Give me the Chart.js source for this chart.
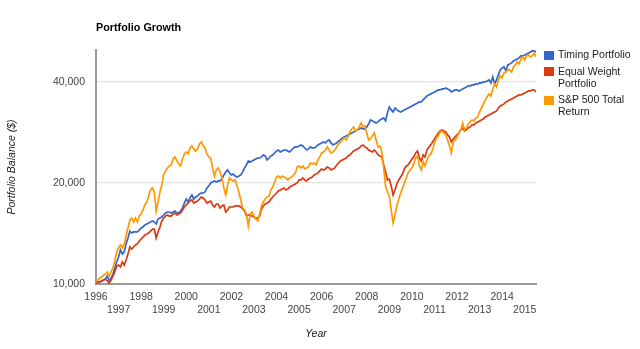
<!DOCTYPE html>
<html>
<head>
<meta charset="utf-8">
<title>Portfolio Growth</title>
<script src="https://cdn.jsdelivr.net/npm/chart.js@4.4.1/dist/chart.umd.min.js"></script>
<style>
  body { margin: 0; background: #fff; }
  #wrap { position: relative; width: 640px; height: 349px; font-family: Arial, "Liberation Sans", sans-serif; }
  #chart { position: absolute; left: 0; top: 0; }
  #title { position: absolute; left: 96px; top: 21px; font-size: 10.8px; line-height: 12px; font-weight: bold; color: #000; }
  .key { position: absolute; left: 544px; width: 10px; height: 9px; }
  .label { position: absolute; left: 558px; font-size: 10.5px; line-height: 11.7px; color: #222; white-space: nowrap; }
</style>
</head>
<body>
<div id="wrap">
  <canvas id="chart" width="640" height="349"></canvas>
  <div id="title">Portfolio Growth</div>
  <div id="legend"></div>
</div>
<script>
// monthly balances, Jan 1996 onwards
const startYear = 1996;
const tickYears = [1996, 1997, 1998, 1999, 2000, 2001, 2002, 2003, 2004, 2005,
  2006, 2007, 2008, 2009, 2010, 2011, 2012, 2013, 2014, 2015];
const balanceTicks = [10000, 20000, 40000];

const seriesNames = ["Timing Portfolio", "Equal Weight Portfolio", "S&P 500 Total Return"];
const legendLines = [["Timing Portfolio"], ["Equal Weight", "Portfolio"], ["S&P 500 Total", "Return"]];
const seriesColors = ["#3366cc", "#dc3912", "#ff9900"];

const timing = [
  10070, 10140, 10140, 10210, 10280, 10350, 10560, 10210, 10420, 10710, 11160, 11630,
  12030, 12630, 12290, 12450, 13160, 13710, 14380, 14190, 14290, 14290, 14290, 14480,
  14680, 14790, 14990, 15090, 15200, 15300, 15410, 15300, 15090, 15620, 15730, 15840,
  16050, 16280, 16390, 16390, 16280, 16390, 16500, 16280, 16280, 16500, 16840, 17430,
  17920, 17550, 18040, 18420, 17920, 18170, 18290, 18540, 18670, 18670, 18800, 19320,
  19590, 20000, 20140, 20280, 20140, 20280, 20280, 20560, 21130, 21570, 21870, 21420,
  21130, 21270, 20980, 20840, 20980, 21130, 21570, 22170, 22630, 23260, 23100, 23260,
  23420, 23580, 23740, 23740, 23910, 24240, 24070, 23420, 23740, 24070, 24240, 24570,
  24910, 25080, 24740, 24910, 25080, 25080, 24910, 24740, 25080, 25430, 25610, 25610,
  25780, 25960, 25780, 25430, 25080, 25260, 25610, 25430, 25430, 25610, 25960, 26140,
  26320, 26500, 26320, 26680, 26870, 26320, 25960, 26140, 26320, 26680, 26870, 27240,
  27430, 27620, 27810, 28000, 28190, 28380, 28580, 28780, 28980, 29170, 28980, 28980,
  29380, 29990, 30820, 30610, 30400, 30190, 30400, 30820, 31030, 31250, 30610, 32340,
  33700, 33010, 32560, 33470, 33010, 32790, 32560, 32790, 33010, 33240, 33470, 33700,
  33930, 34170, 34400, 34640, 34880, 34880, 35360, 35850, 36340, 36590, 36850, 37100,
  37360, 37610, 37870, 37870, 38130, 38130, 38400, 38130, 37870, 37360, 37610, 37870,
  37870, 37610, 37870, 38130, 38400, 38660, 38930, 38930, 39190, 39190, 39460, 39460,
  39740, 39740, 40010, 40010, 40290, 40560, 39740, 41410, 39460, 40560, 41980, 43450,
  44050, 44350, 43150, 44960, 45270, 45590, 46220, 46530, 46850, 47180, 47830, 47830,
  48160, 48490, 48820, 49160, 49500, 49500, 49160
];

const equalWeight = [
  10070, 10140, 10140, 10210, 10280, 10350, 10210, 10070, 10280, 10560, 10860, 11310,
  11390, 11240, 11630, 11390, 11790, 12290, 12890, 12710, 12890, 13070, 13160, 13430,
  13620, 13800, 14000, 14090, 14190, 14380, 14580, 14580, 13710, 14290, 14790, 15410,
  15730, 15940, 16050, 15940, 15940, 16170, 16280, 16050, 16170, 16280, 16620, 16960,
  17200, 17430, 17670, 17800, 17430, 17550, 17670, 17920, 18170, 18040, 17800, 17430,
  17550, 17670, 17200, 16960, 17310, 17310, 16840, 17080, 17200, 16390, 16620, 16960,
  16960, 16960, 17080, 17080, 17080, 16960, 16730, 16500, 15940, 16050, 16050, 15940,
  15840, 15730, 15730, 15940, 16730, 17080, 17310, 17430, 17550, 17920, 18170, 18420,
  18670, 18930, 19060, 19190, 19320, 19060, 19190, 19460, 19590, 19720, 19860, 20000,
  20420, 20420, 20700, 20420, 20280, 20560, 20700, 20840, 21130, 21270, 21420, 21720,
  22020, 21870, 22020, 22320, 22170, 21870, 22020, 22170, 22630, 22940, 23260, 23420,
  23580, 23740, 24070, 24240, 24570, 24910, 25080, 25260, 25430, 25780, 25960, 25610,
  25430, 25080, 24910, 24740, 25080, 24740, 24240, 24070, 23910, 22630, 21570, 20420,
  20560, 19590, 18420, 19060, 19860, 20420, 20840, 21270, 22020, 22480, 22630, 23100,
  23580, 23910, 24570, 24910, 23740, 23260, 24240, 23910, 25080, 25610, 25960, 26500,
  27050, 27620, 28190, 28580, 28780, 28580, 28380, 27810, 27430, 26500, 27050, 27430,
  27810, 28190, 28780, 29170, 28580, 28780, 29170, 29380, 29780, 29780, 30190, 30400,
  30610, 30820, 31030, 31460, 31680, 31900, 32120, 32340, 32560, 32790, 33470, 33930,
  34170, 34400, 34880, 35120, 35360, 35600, 35850, 36090, 36340, 36590, 36590, 36850,
  37100, 37360, 37610, 37610, 37870, 37870, 37360
];

const sp500Total = [
  10140, 10280, 10420, 10490, 10640, 10710, 10860, 10560, 10860, 11160, 11710, 12450,
  12800, 13070, 12800, 13160, 13900, 14680, 15510, 15730, 15300, 15730, 15300, 15940,
  16170, 16620, 17200, 17550, 18290, 19060, 19320, 18800, 16500, 17550, 18800, 19720,
  21270, 21720, 22170, 22480, 22630, 23580, 23910, 23260, 22790, 22480, 23580, 24410,
  24740, 24410, 25430, 25780, 25260, 24910, 25260, 26140, 26500, 25780, 25430, 24410,
  23910, 23740, 22170, 20980, 21870, 22170, 21570, 20700, 19320, 18420, 19720, 20700,
  20420, 20280, 20420, 19590, 18800, 17800, 16840, 16620, 16170, 14890, 16170, 16390,
  15940, 15620, 15410, 16170, 17080, 17550, 17920, 18170, 18290, 19060, 19460, 20140,
  20840, 20980, 20700, 20980, 20840, 20700, 20420, 20700, 20840, 21130, 21420, 22320,
  22480, 22170, 22480, 22020, 22170, 22320, 22940, 22790, 22940, 22630, 23420, 23910,
  24570, 24740, 25080, 25610, 25080, 24570, 24740, 25080, 25610, 26140, 26500, 26870,
  27240, 26870, 27430, 28380, 28980, 29380, 28580, 28780, 29380, 30190, 29380, 29580,
  28190, 26870, 27050, 27620, 28190, 26870, 25610, 25780, 24740, 22170, 19590, 18800,
  18290, 16620, 15200, 16050, 17080, 17920, 18670, 19320, 20000, 20700, 21420, 21870,
  22170, 22790, 23740, 24070, 22480, 21870, 23100, 22480, 23420, 24070, 24410, 25080,
  26320, 27240, 27620, 28380, 28580, 28190, 27810, 26870, 25780, 24570, 26500, 26870,
  27430, 28190, 28780, 30190, 28780, 29170, 29990, 30400, 30820, 30610, 31250, 31460,
  32560, 33470, 34400, 35360, 36090, 36850, 36340, 38130, 39460, 38660, 40560, 41690,
  41120, 42560, 42850, 43450, 43450, 42850, 44350, 44960, 45900, 45270, 46850, 47500,
  46530, 47830, 48160, 47500, 47830, 48820, 47500
];

const fontFamily = 'Arial, "Liberation Sans", sans-serif';
const tickFont = { family: fontFamily, size: 10.5, lineHeight: 1.27 };
const axisTitleFont = { family: fontFamily, size: 10.5, style: "italic", lineHeight: 1.2 };

// one point per month
const toPoints = (values) => values.map((v, i) => ({ x: startYear + i / 12, y: v }));
const lastX = startYear + (timing.length - 1) / 12;

// legend on the right, wrapped like the original
const legend = document.getElementById("legend");
const keyTops = [50.5, 67, 95.5];
const labelTops = [49, 65.8, 94.2];
legendLines.forEach((lines, i) => {
  const key = document.createElement("div");
  key.className = "key";
  key.style.top = keyTops[i] + "px";
  key.style.background = seriesColors[i];
  legend.appendChild(key);
  const label = document.createElement("div");
  label.className = "label";
  label.style.top = labelTops[i] + "px";
  label.innerHTML = lines.map((t) => t.replace("&", "&amp;")).join("<br>");
  legend.appendChild(label);
});

const ctx = document.getElementById("chart").getContext("2d");
const growthChart = new Chart(ctx, {
  type: "line",
  data: {
    datasets: [
      { label: seriesNames[0], data: toPoints(timing), borderColor: seriesColors[0], order: 2 },
      { label: seriesNames[1], data: toPoints(equalWeight), borderColor: seriesColors[1], order: 1 },
      { label: seriesNames[2], data: toPoints(sp500Total), borderColor: seriesColors[2], order: 0 },
    ],
  },
  options: {
    responsive: false,
    animation: false,
    devicePixelRatio: 1,
    layout: { padding: { top: 50, right: 104, left: 0, bottom: 0 } },
    elements: {
      point: { radius: 0 },
      line: { borderWidth: 1.7, tension: 0, fill: false },
    },
    plugins: {
      legend: { display: false },
      tooltip: { enabled: false },
    },
    scales: {
      x: {
        type: "linear",
        min: startYear,
        max: lastX,
        afterBuildTicks: (scale) => {
          scale.ticks = tickYears.map((v) => ({ value: v }));
        },
        afterFit: (scale) => {
          scale.height = 65;
          scale.paddingLeft = 0;
          scale.paddingRight = 0;
        },
        grid: { display: false, drawTicks: false },
        border: { display: true, color: "#9a9a9a", width: 2 },
        ticks: {
          autoSkip: false,
          maxRotation: 0,
          minRotation: 0,
          padding: 6,
          color: "#444",
          font: tickFont,
          // even years on the first row, odd years on the second
          callback: (value, index) => (index % 2 === 0 ? [String(value), ""] : ["", String(value)]),
        },
        title: {
          display: true,
          text: "Year",
          color: "#222",
          font: axisTitleFont,
          padding: { top: 0, bottom: 9 },
        },
      },
      y: {
        type: "logarithmic",
        min: 10000,
        max: 49800,
        afterBuildTicks: (scale) => {
          scale.ticks = balanceTicks.map((v) => ({ value: v }));
        },
        afterFit: (scale) => {
          scale.width = 96;
          scale.paddingTop = 0;
          scale.paddingBottom = 0;
        },
        grid: { color: "#e3e3e3", lineWidth: 1.3, drawTicks: false },
        border: { display: true, color: "#9a9a9a", width: 2 },
        ticks: {
          padding: 11,
          color: "#444",
          font: tickFont,
          callback: (value) => value.toLocaleString("en-US"),
        },
        title: {
          display: true,
          text: "Portfolio Balance ($)",
          color: "#222",
          font: axisTitleFont,
          padding: { top: 6, bottom: 0 },
        },
      },
    },
  },
});
</script>
</body>
</html>
